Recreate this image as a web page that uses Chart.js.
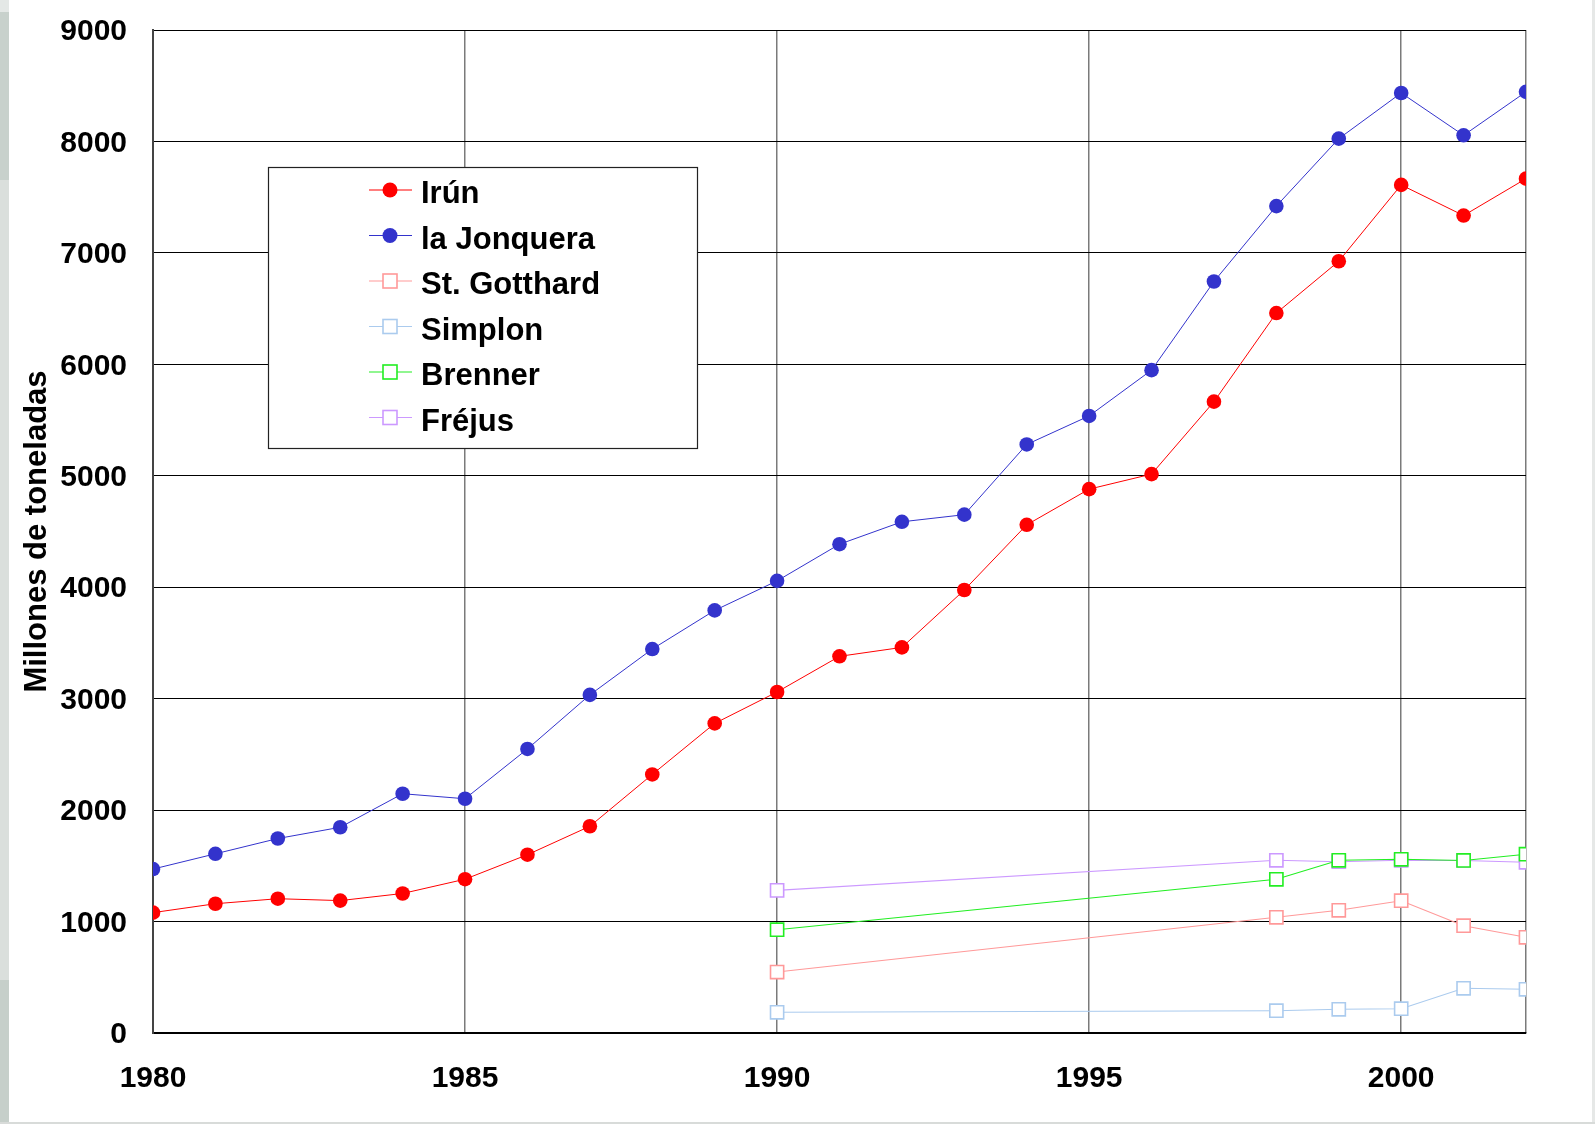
<!DOCTYPE html>
<html>
<head>
<meta charset="utf-8">
<script src="https://cdn.jsdelivr.net/npm/chart.js@4.4.1/dist/chart.umd.min.js"></script>
<style>
  body { margin: 0; background: #fff; }
  #wrap { position: relative; width: 1595px; height: 1124px; overflow: hidden; }
  #chart { position: absolute; left: 0; top: 0; }
  .edge { position: absolute; }
</style>
</head>
<body>
<div id="wrap">
  <canvas id="chart" width="1595" height="1124"></canvas>
  <div class="edge" style="left:0;top:0;width:9px;height:1124px;background:linear-gradient(#e4e8e6 0,#e4e8e6 12px,#c8d1cc 12px,#c8d1cc 180px,#dadfdc 180px,#dadfdc 980px,#c6cfca 980px)"></div>
  <div class="edge" style="left:1592px;top:0;width:3px;height:1124px;background:#e6e8e7"></div>
  <div class="edge" style="left:0;top:1122px;width:1595px;height:2px;background:#d8dbd9"></div>
</div>
<script>
const years = [1980, 1981, 1982, 1983, 1984, 1985, 1986, 1987, 1988, 1989, 1990,
  1991, 1992, 1993, 1994, 1995, 1996, 1997, 1998, 1999, 2000, 2001, 2002];
const irun = [1080, 1160, 1205, 1188, 1252, 1380, 1600, 1855, 2320, 2778, 3060,
  3380, 3460, 3975, 4560, 4880, 5015, 5665, 6460, 6925, 7610, 7335, 7666];
const jonquera = [1471, 1608, 1745, 1846, 2147, 2102, 2549, 3034, 3445, 3792, 4057,
  4386, 4587, 4651, 5281, 5537, 5948, 6743, 7420, 8025, 8435, 8055, 8445];

const alpsYears = [1990, 1998, 1999, 2000, 2001, 2002];
const gotthard = [547, 1038, 1101, 1187, 963, 859];
const simplon = [186, 200, 213, 218, 401, 392];
const brenner = [927, 1379, 1550, 1559, 1548, 1604];
const frejus = [1280, 1550, 1537, 1550, 1548, 1532];

const toPoints = (xs, ys) => xs.map((x, i) => ({ x: x, y: ys[i] }));

function circleSet(label, color, xs, ys) {
  return {
    label: label, data: toPoints(xs, ys),
    borderColor: color, backgroundColor: color, borderWidth: 1,
    pointStyle: 'circle', pointRadius: 7.3, pointBorderWidth: 0,
    pointBackgroundColor: color
  };
}
function squareSet(label, color, xs, ys) {
  return {
    label: label, data: toPoints(xs, ys),
    borderColor: color, backgroundColor: '#fff', borderWidth: 1.1,
    pointStyle: 'rect', pointRadius: 9.3, pointBorderWidth: 1.6,
    pointBackgroundColor: '#fff', pointBorderColor: color
  };
}

const FONT = '"Liberation Sans", Arial, sans-serif';

// legend drawn inside the plot, as in the original
const boxLegend = {
  id: 'boxLegend',
  afterDraw(chart) {
    const ctx = chart.ctx;
    ctx.save();
    ctx.fillStyle = '#fff';
    ctx.fillRect(268, 167, 429, 281);
    ctx.strokeStyle = '#222';
    ctx.lineWidth = 1.2;
    ctx.strokeRect(268.5, 167.5, 429, 281);
    chart.data.datasets.forEach((ds, i) => {
      const y = 190 + i * 45.5;
      ctx.strokeStyle = ds.borderColor;
      ctx.lineWidth = 1.2;
      ctx.beginPath();
      ctx.moveTo(369, y);
      ctx.lineTo(412, y);
      ctx.stroke();
      if (ds.pointStyle === 'circle') {
        ctx.fillStyle = ds.borderColor;
        ctx.beginPath();
        ctx.arc(390, y, 7.5, 0, Math.PI * 2);
        ctx.fill();
      } else {
        ctx.fillStyle = '#fff';
        ctx.fillRect(383, y - 7, 14, 14);
        ctx.lineWidth = 1.6;
        ctx.strokeRect(383, y - 7, 14, 14);
      }
      ctx.fillStyle = '#000';
      ctx.font = 'bold 31px ' + FONT;
      ctx.textBaseline = 'alphabetic';
      ctx.textAlign = 'left';
      ctx.fillText(ds.label, 421, y + 13);
    });
    ctx.restore();
  }
};

new Chart(document.getElementById('chart'), {
  type: 'line',
  data: {
    datasets: [
      circleSet('Irún', '#ff0000', years, irun),
      circleSet('la Jonquera', '#3333cc', years, jonquera),
      squareSet('St. Gotthard', '#ff9999', alpsYears, gotthard),
      squareSet('Simplon', '#abcbee', alpsYears, simplon),
      squareSet('Brenner', '#22ee22', alpsYears, brenner),
      squareSet('Fréjus', '#cc99ff', alpsYears, frejus)
    ]
  },
  options: {
    responsive: false,
    animation: false,
    devicePixelRatio: 1,
    layout: { padding: { left: 0, top: 30, right: 69, bottom: 0 } },
    plugins: { legend: { display: false }, tooltip: { enabled: false } },
    events: [],
    scales: {
      x: {
        type: 'linear', min: 1980, max: 2002,
        afterFit: s => { s.height = 91; s.paddingLeft = 0; s.paddingRight = 0; },
        grid: { color: '#7a7a7a', lineWidth: 1.5, drawTicks: false },
        border: { color: '#000', width: 1.5 },
        ticks: {
          stepSize: 5, autoSkip: false, maxRotation: 0, padding: 28,
          color: '#000', font: { family: FONT, size: 30, weight: 'bold' },
          callback: v => (v % 5 === 0 ? String(v) : '')
        }
      },
      y: {
        min: 0, max: 9000,
        afterFit: s => { s.width = 153; s.paddingTop = 0; s.paddingBottom = 0; },
        grid: { color: '#000', lineWidth: 1, drawTicks: false },
        border: { color: '#444', width: 2 },
        ticks: {
          stepSize: 1000, padding: 26, labelOffset: 2, color: '#000',
          font: { family: FONT, size: 30, weight: 'bold' },
          callback: v => String(v)
        },
        title: {
          display: true, text: 'Millones de toneladas', color: '#000',
          font: { family: FONT, size: 31, weight: 'bold' },
          padding: { top: 19, bottom: 0 }
        }
      }
    }
  },
  plugins: [boxLegend]
});
</script>
</body>
</html>
